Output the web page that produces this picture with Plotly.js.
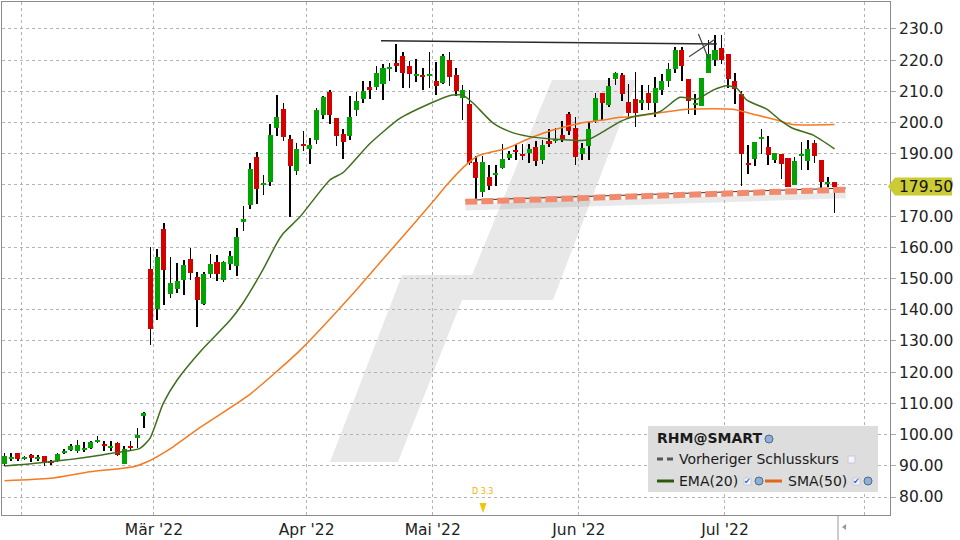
<!DOCTYPE html>
<html><head><meta charset="utf-8">
<script src="https://cdn.plot.ly/plotly-3.0.1.min.js"></script>
<style>html,body{margin:0;padding:0;background:#fff;}#chart{width:960px;height:540px;}</style>
</head><body><div id="chart"></div>
<script>
// ---- DATA (trading days 27 Jan 2022 .. 25 Jul 2022) ----
const open = [90.6,92.2,94.0,92.2,93.4,92.2,93.1,91.4,91.4,94.2, 95.1,94.6,95.1,95.7,97.7,97.1,95.8,97.4,90.7,96.5,
 98.9,106.0,153.1,140.4,165.9,145.2,146.7,149.6,156.3,150.5, 142.0,151.6,155.3,149.6,154.8,154.1,168.2,173.7,189.0,180.1,
 181.1,198.4,204.4,194.7,184.6,193.2,191.6,194.5,202.5,209.8, 201.5,196.3,195.8,204.1,207.6,211.4,211.4,212.4,217.2,219.1,
 221.3,218.1,214.9,215.3,214.9,213.3,212.7,220.1,215.3,208.0, 206.0,187.4,177.8,182.6,183.3,185.5,188.8,191.2,190.0,190.3,
 192.2,188.0,194.1,194.0,196.1,202.8,198.3,190.0,192.6,200.6, 209.6,205.7,214.1,215.2,206.6,207.5,206.2,209.5,206.4,210.5,
 213.4,217.3,223.3,214.0,205.5,205.3,216.0,220.2,223.9,222.0, 213.3,209.2,187.0,188.4,194.8,192.2,188.1,190.0,188.7,180.1,
 189.4,187.8,193.5,188.0,180.4,181.1];
const high = [94.2,94.2,94.0,93.2,93.8,93.5,93.1,91.7,94.2,95.4, 97.0,98.3,97.7,98.0,99.5,97.9,98.0,97.7,96.4,97.9,
 102.2,107.2,160.2,159.5,167.9,156.9,155.0,156.0,159.9,152.1, 152.1,157.9,157.6,155.6,158.8,166.2,173.3,187.1,190.6,183.2,
 199.6,208.8,206.3,196.0,193.5,197.3,195.0,204.6,208.6,210.4, 201.5,197.9,208.5,209.8,213.3,213.3,218.1,218.8,219.1,225.2,
 222.6,219.7,220.4,217.5,222.6,219.4,222.0,222.6,217.5,212.1, 210.4,189.3,189.3,186.3,186.3,193.0,190.9,193.0,193.0,193.0,
 194.1,194.4,198.0,198.3,200.6,203.5,201.9,193.4,200.3,209.6, 209.6,214.2,216.2,215.8,212.3,216.1,212.0,212.0,214.5,215.5,
 219.2,224.1,224.1,214.0,209.2,214.2,226.5,228.0,228.0,222.0, 215.8,210.2,192.8,193.7,198.0,195.7,190.3,190.0,188.7,189.0,
 193.8,194.4,194.4,188.0,182.7,181.1];
const low = [89.9,91.6,91.6,91.8,91.3,91.4,90.0,90.3,91.1,93.9, 94.8,94.2,94.4,95.4,97.4,94.7,94.7,93.0,90.7,95.0,
 95.7,102.2,128.7,136.7,141.6,143.9,145.4,144.8,149.6,134.6, 141.6,150.3,149.2,149.0,152.9,150.9,165.4,172.4,174.0,176.9,
 179.7,195.8,194.2,169.8,183.2,190.9,186.8,193.2,201.2,199.6, 192.6,188.4,194.5,202.2,206.3,207.6,210.4,207.2,213.3,216.2,
 211.1,211.1,213.0,210.4,211.1,208.8,212.4,211.7,208.5,200.8, 186.5,174.9,176.0,178.4,179.8,185.0,188.0,188.0,188.0,187.1,
 186.0,186.7,192.3,193.4,193.8,196.0,186.4,188.0,188.0,200.0, 200.8,205.1,212.1,207.0,201.1,198.7,204.0,204.0,201.9,209.0,
 211.5,215.8,213.4,202.6,202.5,205.3,216.0,218.2,218.9,211.2, 205.9,179.6,183.4,186.0,189.8,186.5,187.0,181.8,179.5,180.1,
 184.9,184.9,187.2,178.6,179.5,171.1];
const close = [93.1,92.8,92.2,92.8,92.6,92.8,90.8,90.8,93.8,94.8, 96.5,96.6,95.8,97.7,98.3,96.4,96.5,93.5,95.4,95.8,
 99.8,107.0,133.9,156.9,152.8,148.6,149.2,154.4,151.8,143.1, 151.5,154.7,151.6,155.3,157.2,163.3,169.1,185.1,178.8,180.6,
 196.0,201.8,195.5,186.2,191.5,192.6,192.8,204.0,208.2,202.5, 195.8,193.9,201.8,206.9,210.1,210.4,215.9,217.5,217.8,218.1,
 215.9,215.6,215.6,214.6,215.6,211.7,221.3,214.6,210.1,210.4, 187.0,182.3,187.4,179.8,183.8,188.3,190.0,190.7,189.4,191.5,
 187.7,192.8,193.1,194.8,194.7,197.4,189.1,191.9,198.0,207.9, 206.4,211.7,215.8,209.3,203.0,203.2,207.2,206.2,211.0,213.4,
 217.2,223.3,218.2,207.0,206.2,214.2,222.0,223.3,220.2,213.9, 210.9,189.8,186.4,193.7,195.5,189.7,190.3,186.8,179.5,187.7,
 190.0,191.5,189.4,181.1,181.0,179.5];

// EMA(20) and SMA(50) (trading-day position, value)
const emaX = [0,4.3,9.4,14.4,17,20.4,21.9,23.9,26,29.7,34,35.9,38.9,41,42,44.5,49,51,55,59.6,64.5,67.1,69,70.6,73.6,76.1,79.1,83.7,87.7,90.1,92.7,94.6,98.7,101.7,104.3,106.7,108.8,110.3,111.8,114.8,116.8,118.7,121.8,125];
const emaY = [89.9,90.7,91.9,93.4,94.3,95.6,98.8,110,117.5,127.1,136.7,142.1,152.8,161.3,164.5,169.8,181.6,184,193.2,201.4,206.5,208.7,208.8,206.2,199.8,197.1,195.5,194.6,194.4,197,200.3,201.9,203.5,208.1,207.5,210.4,211.8,211,207.2,204.3,200.8,198.2,196,191.6];
const smaX = [0,6.9,12.9,19.4,21.5,25.4,29.4,37,44.5,52,56.5,61.5,64.5,66.6,69.8,71.6,75.7,79.1,82.6,86.7,90.1,92.7,94.6,99.8,102.8,109.7,113.3,116.3,118.7,125];
const smaY = [85.2,86.0,88.1,89.7,91.3,96.1,102.2,113,127,144,155,167.2,174.6,180,187,189.6,191.8,195,197.6,199.8,200.8,201.7,201.9,203.5,204.3,204.3,202.4,200.8,199.4,199.4];

const monthStart = [3, 23, 46, 65, 87, 109, 130];
const monthLabel = ['', "Mär '22", "Apr '22", "Mai '22", "Jun '22", "Jul '22", ''];
const yTicks = [80,90,100,110,120,130,140,150,160,170,180,190,200,210,220,230];
const yTickText = ['80.00','90.00','100.00','110.00','120.00','130.00','140.00','150.00','160.00','170.00','180.00','190.00','200.0','210.0','220.0','230.0'];
const lastPrice = 179.50;
const dividend = {day: 72, text: 'D 3.3'};
const trendLine = {x0: 56.7, y0: 226.2, x1: 107.3, y1: 225.2};
const supportLine = {x0: 69.4, y0: 174.6, x1: 126.7, y1: 178.5};

// ---- BUILD ----
const xs = close.map((_, k) => k);
const up = close.map((c, k) => c >= open[k]);
const bodyBase = close.map((c, k) => Math.min(c, open[k]));
const bodyH = close.map((c, k) => Math.max(Math.abs(c - open[k]), 0.55));
const GREEN = '#00a400', RED = '#d40000';

const traces = [
  {type:'bar', x: xs, base: low, y: high.map((h,k)=>h-low[k]), width: 0.24,
   marker:{color:'#000', line:{width:0}}, hoverinfo:'skip', showlegend:false},
  {type:'bar', x: xs, base: bodyBase, y: bodyH, width: 0.76,
   marker:{color: up.map(u => u ? GREEN : RED), line:{width:0}}, hoverinfo:'skip', showlegend:false},
  {type:'scatter', mode:'lines', x: smaX, y: smaY, line:{color:'#f57a22', width:1.5, shape:'spline', smoothing:0.6}, hoverinfo:'skip', showlegend:false},
  {type:'scatter', mode:'lines', x: emaX, y: emaY, line:{color:'#3f6e1c', width:1.5, shape:'spline', smoothing:0.6}, hoverinfo:'skip', showlegend:false}
];

// pixel helpers for decorations (paper coordinates)
const PX = x => (x - 2) / 888;
const PY = y => (515 - y) / 513;
function poly(pts){ return 'M' + pts.map(p => PX(p[0]).toFixed(4) + ',' + PY(p[1]).toFixed(4)).join(' L') + ' Z'; }

const shapes = [
  // watermark
  {type:'path', xref:'paper', yref:'paper', layer:'below', line:{width:0}, fillcolor:'#e8e8e8',
   path: poly([[552,80],[637,80],[553,300],[462,300],[398,462],[330,462],[402,275],[472,275]])},
  // support line shadow, thin line, dashes
  {type:'line', xref:'x', yref:'y', x0:supportLine.x0, y0:supportLine.y0-1.8, x1:supportLine.x1, y1:supportLine.y1-1.8,
   line:{color:'rgba(120,120,120,0.16)', width:6}},
  {type:'line', xref:'x', yref:'y', x0:supportLine.x0, y0:supportLine.y0+0.5, x1:supportLine.x1, y1:supportLine.y1+0.5,
   line:{color:'#333', width:1}},
  {type:'line', xref:'x', yref:'y', x0:supportLine.x0, y0:supportLine.y0, x1:supportLine.x1, y1:supportLine.y1,
   line:{color:'#f28b6d', width:6, dash:'12px,4px'}},
  // resistance trendline
  {type:'line', xref:'x', yref:'y', x0:trendLine.x0, y0:trendLine.y0, x1:trendLine.x1, y1:trendLine.y1,
   line:{color:'#2a2a2a', width:1.5}},
  // X mark
  {type:'line', xref:'x', yref:'y', x0:104.5, y0:228.4, x1:106.0, y1:220.6, line:{color:'#444', width:1.2}},
  {type:'line', xref:'x', yref:'y', x0:103.1, y0:221.1, x1:107.0, y1:226.7, line:{color:'#444', width:1.2}},
  // price tag
  {type:'path', xref:'paper', yref:'paper', line:{width:0}, fillcolor:'#cbcb35',
   path: poly([[888,186.5],[895,177.5],[952,177.5],[952,195.5],[895,195.5]])},
  // dividend triangle
  {type:'path', xref:'paper', yref:'paper', line:{width:0}, fillcolor:'#f5c400',
   path: poly([[479.5,503],[486.5,503],[483,513]])},
  // bottom right separator
  {type:'line', xref:'paper', yref:'paper', x0:PX(838), x1:PX(838), y0:PY(515), y1:PY(540), line:{color:'#999', width:1}},
  {type:'path', xref:'paper', yref:'paper', line:{width:0}, fillcolor:'#999',
   path: poly([[842,527],[846,524],[846,530]])},
  // legend box
  {type:'rect', xref:'paper', yref:'paper', x0:PX(648), x1:PX(878), y0:PY(492), y1:PY(426), line:{width:0}, fillcolor:'#dddddd'},
  {type:'line', xref:'paper', yref:'paper', x0:PX(657), x1:PX(663), y0:PY(459), y1:PY(459), line:{color:'#555', width:3}},
  {type:'line', xref:'paper', yref:'paper', x0:PX(667), x1:PX(673), y0:PY(459), y1:PY(459), line:{color:'#555', width:3}},
  {type:'line', xref:'paper', yref:'paper', x0:PX(657), x1:PX(674), y0:PY(481), y1:PY(481), line:{color:'#2d5a0a', width:3}},
  {type:'line', xref:'paper', yref:'paper', x0:PX(765), x1:PX(782), y0:PY(481), y1:PY(481), line:{color:'#e0661a', width:3}},
  {type:'rect', xref:'paper', yref:'paper', x0:PX(848), x1:PX(855), y0:PY(463), y1:PY(456), line:{color:'#c8c8d8', width:1}, fillcolor:'#f4f4ff'},
  {type:'rect', xref:'paper', yref:'paper', x0:PX(744), x1:PX(751), y0:PY(485), y1:PY(478), line:{color:'#c8c8d8', width:1}, fillcolor:'#f4f4ff'},
  {type:'rect', xref:'paper', yref:'paper', x0:PX(853), x1:PX(860), y0:PY(485), y1:PY(478), line:{color:'#c8c8d8', width:1}, fillcolor:'#f4f4ff'},
  {type:'circle', xref:'paper', yref:'paper', x0:PX(765), x1:PX(773), y0:PY(443), y1:PY(435), line:{color:'#4a6a90', width:1}, fillcolor:'#8fb0d6'},
  {type:'circle', xref:'paper', yref:'paper', x0:PX(755), x1:PX(763), y0:PY(485), y1:PY(477), line:{color:'#4a6a90', width:1}, fillcolor:'#8fb0d6'},
  {type:'circle', xref:'paper', yref:'paper', x0:PX(864), x1:PX(872), y0:PY(485), y1:PY(477), line:{color:'#4a6a90', width:1}, fillcolor:'#8fb0d6'}
];

const F = 'DejaVu Sans, Verdana, sans-serif';
const annotations = [
  {xref:'paper', yref:'paper', x:PX(897), y:PY(186.5), xanchor:'left', yanchor:'middle', text: lastPrice.toFixed(2), showarrow:false, font:{family:F, size:15.5, color:'#111'}},
  {xref:'x', yref:'paper', x:dividend.day, y:PY(491), xanchor:'center', yanchor:'middle', text: dividend.text, showarrow:false, font:{family:F, size:8, color:'#f0b400'}},
  {xref:'paper', yref:'paper', x:PX(655), y:PY(438), xanchor:'left', yanchor:'middle', text:'<b>RHM@SMART</b>', showarrow:false, font:{family:F, size:14, color:'#1a1a1a'}},
  {xref:'paper', yref:'paper', x:PX(677), y:PY(459), xanchor:'left', yanchor:'middle', text:'Vorheriger Schlusskurs', showarrow:false, font:{family:F, size:14, color:'#1a1a1a'}},
  {xref:'paper', yref:'paper', x:PX(677), y:PY(481), xanchor:'left', yanchor:'middle', text:'EMA(20)', showarrow:false, font:{family:F, size:14, color:'#1a1a1a'}},
  {xref:'paper', yref:'paper', x:PX(786), y:PY(481), xanchor:'left', yanchor:'middle', text:'SMA(50)', showarrow:false, font:{family:F, size:14, color:'#1a1a1a'}},
  {xref:'paper', yref:'paper', x:PX(747.5), y:PY(481), xanchor:'center', yanchor:'middle', text:'✔', showarrow:false, font:{family:F, size:8, color:'#2a62c8'}},
  {xref:'paper', yref:'paper', x:PX(856.5), y:PY(481), xanchor:'center', yanchor:'middle', text:'✔', showarrow:false, font:{family:F, size:8, color:'#2a62c8'}}
];

const layout = {
  width:960, height:540, margin:{l:2, r:70, t:2, b:25},
  paper_bgcolor:'#fff', plot_bgcolor:'#fff', barmode:'overlay', bargap:0, showlegend:false,
  xaxis:{range:[-0.38, 133.36], tickvals: monthStart.map(m => m - 0.5), ticktext: monthLabel,
    showgrid:true, gridcolor:'#b4b4b4', griddash:'3px,3px', gridwidth:1, zeroline:false,
    showline:true, linecolor:'#8c8c8c', linewidth:1, mirror:true, ticks:'',
    tickfont:{family:F, size:15.5, color:'#222'}, fixedrange:true},
  yaxis:{range:[74.23, 238.65], side:'right', tickvals: yTicks, ticktext: yTickText,
    showgrid:true, gridcolor:'#b4b4b4', griddash:'3px,3px', gridwidth:1, zeroline:false,
    showline:true, linecolor:'#8c8c8c', linewidth:1, mirror:true, ticks:'outside', ticklen:5, tickcolor:'#aaa',
    tickfont:{family:F, size:15.5, color:'#222'}, fixedrange:true},
  shapes: shapes, annotations: annotations, hovermode:false
};
Plotly.newPlot('chart', traces, layout, {displayModeBar:false, staticPlot:true});
</script></body></html>
